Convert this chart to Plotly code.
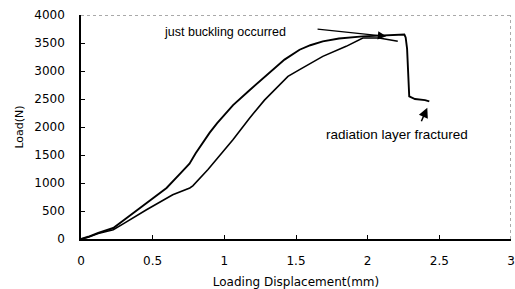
import plotly.graph_objects as go

# Upper curve (specimen A)
xa = [0, 0.05, 0.12, 0.225, 0.3, 0.4, 0.457, 0.5, 0.597, 0.70, 0.757, 0.80, 0.86, 0.898,
      0.95, 1.0, 1.061, 1.17, 1.246, 1.33, 1.42, 1.525, 1.60, 1.687, 1.80, 1.966, 2.13,
      2.256, 2.265, 2.275, 2.29, 2.33, 2.40, 2.43]
ya = [0, 40, 110, 196, 340, 530, 643, 720, 911, 1190, 1345, 1530, 1760, 1900,
      2070, 2220, 2390, 2643, 2815, 3000, 3203, 3380, 3460, 3530, 3580, 3618, 3640,
      3652, 3600, 3400, 2547, 2500, 2480, 2457]

# Lower curve (specimen B)
xb = [0, 0.05, 0.12, 0.225, 0.3, 0.41, 0.457, 0.64, 0.759, 0.78, 0.886, 1.06, 1.177,
      1.28, 1.386, 1.444, 1.525, 1.687, 1.85, 1.966, 2.08, 2.21]
yb = [0, 30, 100, 166, 280, 450, 523, 790, 911, 950, 1240, 1773, 2161,
      2480, 2756, 2904, 3024, 3261, 3440, 3590, 3590, 3530]

x_ticks = [0, 0.5, 1, 1.5, 2, 2.5, 3]
x_labels = ["0", "0.5", "1", "1.5", "2", "2.5", "3"]
y_ticks = [0, 500, 1000, 1500, 2000, 2500, 3000, 3500, 4000]

FONT = "DejaVu Sans, sans-serif"
FONT2 = "Liberation Sans, Arial, sans-serif"

fig = go.Figure()
fig.add_trace(go.Scatter(x=xb, y=yb, mode="lines",
                         line=dict(color="black", width=1.6), showlegend=False))
fig.add_trace(go.Scatter(x=xa, y=ya, mode="lines",
                         line=dict(color="black", width=1.9), showlegend=False))

# dotted top/right frame
fig.add_shape(type="line", xref="x", yref="y", x0=0, x1=3, y0=4000, y1=4000,
              line=dict(color="#555", width=1, dash="dot"))
fig.add_shape(type="line", xref="x", yref="y", x0=3, x1=3, y0=0, y1=4000,
              line=dict(color="#555", width=1, dash="dot"))

# annotations
fig.add_annotation(x=1.003, y=3702, text="just buckling occurred", showarrow=False,
                   font=dict(family=FONT2, size=12.5, color="black"))
fig.add_annotation(x=2.13, y=3620, ax=1.64, ay=3750, axref="x", ayref="y",
                   text="", showarrow=True, arrowhead=2, arrowsize=1.3,
                   arrowwidth=1.3, arrowcolor="black")
fig.add_annotation(x=2.207, y=1863, text="radiation layer fractured", showarrow=False,
                   font=dict(family=FONT2, size=13.5, color="black"))
fig.add_annotation(x=2.416, y=2344, ax=2.37, ay=2077, axref="x", ayref="y",
                   text="", showarrow=True, arrowhead=2, arrowsize=1.3,
                   arrowwidth=1.5, arrowcolor="black")

fig.update_layout(
    width=515, height=289,
    margin=dict(l=81, r=4, t=15, b=50, autoexpand=False),
    paper_bgcolor="white", plot_bgcolor="white",
    font=dict(family=FONT, size=12, color="black"),
    xaxis=dict(range=[0, 3], tickvals=x_ticks, ticktext=x_labels,
               ticks="inside", ticklen=4, tickcolor="black",
               showline=True, linecolor="black", linewidth=1.5,
               showgrid=False, zeroline=False, ticklabelstandoff=10,
               automargin=False,
               title=dict(text="Loading Displacement(mm)", standoff=12,
                          font=dict(size=12))),
    yaxis=dict(range=[0, 4000], tickvals=y_ticks,
               ticks="inside", ticklen=4, tickcolor="black",
               showline=True, linecolor="black", linewidth=1.5,
               showgrid=False, zeroline=False, ticklabelstandoff=12,
               automargin=False,
               title=dict(text="Load(N)", standoff=8, font=dict(size=11))),
)

fig.write_html("out.html", config={"displayModeBar": False},
               post_script="document.body.style.margin='0';document.body.style.padding='0';")
